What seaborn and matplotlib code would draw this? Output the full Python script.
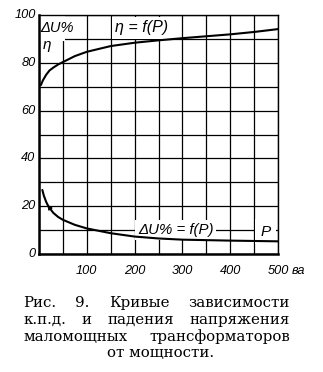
import numpy as np
import pandas as pd
import matplotlib
matplotlib.use("Agg")
import matplotlib.pyplot as plt
import seaborn as sns
from matplotlib.patches import Rectangle

# Efficiency curve, eta = f(P)
power_eta = [4, 8, 15, 22, 30, 40, 50, 75, 100, 150, 200, 250, 300, 350, 400, 450, 500]
efficiency = [70.7, 72.6, 75.0, 76.8, 78.0, 79.3, 80.3, 82.8, 84.6, 87.0, 88.4,
              89.4, 90.3, 91.1, 91.9, 92.9, 94.1]

# Voltage drop curve, dU% = f(P)
power_du = [7, 10, 15, 20, 30, 40, 50, 75, 100, 150, 200, 250, 300, 400, 500]
voltage_drop = [26.8, 24.5, 21.8, 19.8, 17.2, 15.5, 14.3, 12.2, 10.7, 8.7, 7.3,
                6.5, 6.0, 5.6, 5.3]

x_ticks = [100, 200, 300, 400, 500]
y_ticks = [0, 20, 40, 60, 80, 100]
x_unit = "ва"

caption_lines = [
    ["Рис.", "9.", "Кривые", "зависимости"],
    ["к.п.д.", "и", "падения", "напряжения"],
    ["маломощных", "трансформаторов"],
    ["от мощности."],
]

W, H = 323, 372
sns.set_theme(style="white")
plt.rcParams["font.family"] = ["Liberation Sans", "DejaVu Sans"]

fig = plt.figure(figsize=(W / 100, H / 100), dpi=100)
ax = fig.add_axes([39 / W, 1 - 254 / H, 239 / W, 239 / H])

eta_df = pd.DataFrame({"P": power_eta, "value": efficiency})
du_df = pd.DataFrame({"P": power_du, "value": voltage_drop})
sns.lineplot(data=eta_df, x="P", y="value", ax=ax, color="black", lw=1.5,
             zorder=5, sort=False)
sns.lineplot(data=du_df, x="P", y="value", ax=ax, color="black", lw=1.5,
             zorder=5, sort=False)

ax.set_xlim(0, 500)
ax.set_ylim(0, 100)
ax.set_xticks(np.arange(0, 501, 50))
ax.set_yticks(np.arange(0, 101, 10))
ax.grid(True, color="black", lw=0.9)
ax.set_axisbelow(True)
ax.tick_params(length=0)
ax.set_xticklabels([])
ax.set_yticklabels([])
ax.set_xlabel("")
ax.set_ylabel("")

for side, lw in (("left", 1.8), ("bottom", 1.8), ("top", 1.0), ("right", 1.0)):
    ax.spines[side].set_visible(True)
    ax.spines[side].set_color("black")
    ax.spines[side].set_linewidth(lw)

tick_font = dict(family=["Liberation Sans", "DejaVu Sans"], style="italic",
                 fontsize=9.2, color="black")
for v in y_ticks:
    ax.text(-7, v, str(v), ha="right", va="center", **tick_font)
for v in x_ticks:
    ax.text(v, -4.5, str(v), ha="center", va="top", **tick_font)
ax.text(528, -4.5, x_unit, ha="left", va="top", **tick_font)

# blank corner behind the axis symbols
ax.add_patch(Rectangle((1.5, 89.3), 52, 10.2, facecolor="white",
                       edgecolor="none", zorder=1))

label_font = dict(family=["Liberation Sans", "DejaVu Sans"], style="italic",
                  color="black", zorder=3)
ax.text(2, 94.5, "ΔU%", ha="left", va="center", fontsize=10.5, **label_font)
ax.text(8, 87.5, "η", ha="left", va="center", fontsize=11, **label_font)
ax.text(214, 94.6, "η = f(P)", ha="center", va="center", fontsize=11.5,
        bbox=dict(boxstyle="square,pad=0.2", fc="white", ec="none"), **label_font)
ax.text(286, 10, "ΔU% = f(P)", ha="center", va="center", fontsize=10.8,
        bbox=dict(boxstyle="square,pad=0.2", fc="white", ec="none"), **label_font)
ax.text(473, 9.3, "P", ha="center", va="center", fontsize=11,
        bbox=dict(boxstyle="square,pad=0.35", fc="white", ec="none"), **label_font)

# direction arrow on the voltage-drop curve
p_tip, p_tail = 18, 24
ax.annotate("", xy=(p_tip, np.interp(p_tip, power_du, voltage_drop)),
            xytext=(p_tail, np.interp(p_tail, power_du, voltage_drop)),
            arrowprops=dict(arrowstyle="-|>", color="black", lw=0.8,
                            mutation_scale=7), zorder=6)

# justified caption under the chart
cap_font = dict(family=["DejaVu Serif"], fontsize=10.8, color="black")
fig.canvas.draw()
renderer = fig.canvas.get_renderer()
left_px, right_px = 23, 290
baselines = [307, 324, 341, 357]
for words, base in zip(caption_lines, baselines):
    texts = [fig.text(0, 1 - base / H, w, ha="left", va="baseline", **cap_font)
             for w in words]
    widths = [t.get_window_extent(renderer).width for t in texts]
    if len(words) > 1:
        gap = (right_px - left_px - sum(widths)) / (len(words) - 1)
        x = left_px
        for t, w in zip(texts, widths):
            t.set_x(x / W)
            x += w + gap
    else:
        texts[0].set_x((161 - widths[0] / 2) / W)

fig.savefig("out.png", dpi=100)
